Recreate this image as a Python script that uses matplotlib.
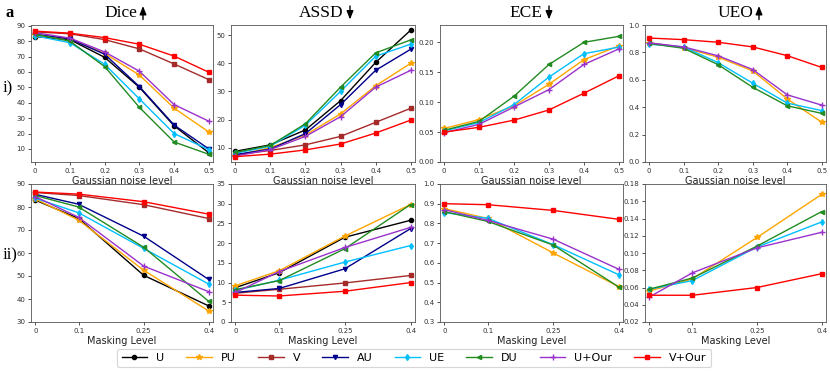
import matplotlib
matplotlib.use("Agg")
import matplotlib.pyplot as plt
from matplotlib.patches import FancyArrowPatch

# ---------------- data ----------------
methods = ["U", "PU", "V", "AU", "UE", "DU", "U+Our", "V+Our"]
colors = {"U": "black", "PU": "#FFA500", "V": "#A52A2A", "AU": "#00008B",
          "UE": "#00BFFF", "DU": "#228B22", "U+Our": "#9932CC", "V+Our": "#FF0000"}
markers = {"U": "o", "PU": "*", "V": "s", "AU": "v", "UE": "d", "DU": "<",
           "U+Our": "+", "V+Our": "s"}

gauss_x = [0, 0.1, 0.2, 0.3, 0.4, 0.5]
gauss_ticks = [0, 0.1, 0.2, 0.3, 0.4, 0.5]
mask_x = [0, 0.1, 0.25, 0.4]
mask_ticks = [0, 0.1, 0.25, 0.4]

dice_gauss = {
    "U": [83.0, 81.0, 69.5, 50.0, 25.0, 7.5],
    "PU": [84.0, 81.5, 72.0, 58.0, 36.5, 21.0],
    "V": [86.0, 84.8, 81.0, 75.0, 65.2, 55.0],
    "AU": [84.5, 81.5, 71.5, 50.5, 25.5, 10.0],
    "UE": [83.5, 79.0, 65.0, 42.5, 20.0, 9.5],
    "DU": [84.5, 80.0, 63.5, 37.0, 14.5, 6.5],
    "U+Our": [85.5, 82.0, 73.0, 60.5, 38.8, 28.0],
    "V+Our": [86.5, 85.2, 82.3, 78.0, 70.3, 59.8],
}
assd_gauss = {
    "U": [8.7, 11.0, 16.3, 26.7, 40.3, 51.8],
    "PU": [7.2, 10.0, 14.5, 22.0, 32.0, 40.0],
    "V": [7.5, 9.0, 11.0, 14.0, 19.0, 24.0],
    "AU": [7.5, 9.5, 15.0, 25.3, 37.5, 45.0],
    "UE": [8.0, 10.5, 18.0, 30.0, 42.5, 46.8],
    "DU": [8.3, 10.8, 18.5, 31.5, 43.7, 48.3],
    "U+Our": [7.0, 9.3, 14.0, 21.0, 31.5, 37.5],
    "V+Our": [6.8, 7.7, 9.2, 11.3, 15.2, 19.8],
}
ece_gauss = {
    "PU": [0.056, 0.071, 0.094, 0.130, 0.171, 0.194],
    "UE": [0.052, 0.066, 0.096, 0.142, 0.181, 0.192],
    "DU": [0.053, 0.068, 0.110, 0.163, 0.200, 0.210],
    "U+Our": [0.049, 0.063, 0.092, 0.121, 0.163, 0.189],
    "V+Our": [0.050, 0.058, 0.070, 0.087, 0.115, 0.144],
}
ueo_gauss = {
    "PU": [0.870, 0.835, 0.765, 0.665, 0.460, 0.290],
    "UE": [0.860, 0.840, 0.725, 0.575, 0.430, 0.375],
    "DU": [0.865, 0.830, 0.710, 0.545, 0.410, 0.355],
    "U+Our": [0.870, 0.840, 0.775, 0.675, 0.490, 0.415],
    "V+Our": [0.905, 0.893, 0.874, 0.840, 0.776, 0.690],
}
dice_mask = {
    "U": [83.0, 75.0, 50.3, 37.0],
    "PU": [83.5, 74.3, 52.5, 34.8],
    "V": [86.3, 85.0, 81.0, 75.0],
    "AU": [85.5, 81.2, 67.3, 48.5],
    "UE": [83.8, 77.5, 62.0, 46.5],
    "DU": [85.0, 80.0, 62.5, 39.0],
    "U+Our": [84.5, 75.5, 54.3, 43.2],
    "V+Our": [86.5, 85.6, 82.3, 76.9],
}
assd_mask = {
    "U": [8.7, 12.5, 21.5, 25.8],
    "PU": [9.2, 13.0, 21.8, 29.8],
    "V": [7.3, 8.3, 9.9, 11.8],
    "AU": [7.5, 8.5, 13.5, 23.7],
    "UE": [8.0, 10.6, 15.2, 19.4],
    "DU": [8.2, 10.5, 18.6, 29.8],
    "U+Our": [7.5, 12.8, 18.9, 24.0],
    "V+Our": [6.8, 6.6, 7.8, 10.0],
}
ece_mask = {
    "PU": [0.875, 0.825, 0.650, 0.480],
    "UE": [0.855, 0.826, 0.692, 0.540],
    "DU": [0.860, 0.810, 0.690, 0.478],
    "U+Our": [0.870, 0.815, 0.720, 0.568],
    "V+Our": [0.900, 0.895, 0.866, 0.821],
}
ueo_mask = {
    "PU": [0.056, 0.070, 0.118, 0.168],
    "UE": [0.058, 0.068, 0.107, 0.136],
    "DU": [0.058, 0.071, 0.108, 0.148],
    "U+Our": [0.049, 0.077, 0.106, 0.124],
    "V+Our": [0.051, 0.051, 0.060, 0.076],
}

titles = ["Dice", "ASSD", "ECE", "UEO"]
title_up = [True, False, False, True]
row_labels = ["i)", "ii)"]
xlabels = ["Gaussian noise level", "Masking Level"]

# ---------------- layout ----------------
W, H = 830, 380
fig = plt.figure(figsize=(W / 100, H / 100), dpi=100)

lefts = [31, 231, 440, 645]
widths = [182, 184, 183, 181]
rows = [(25, 162), (184, 322)]  # top, bottom in px

panels = [
    [(dice_gauss, (1.5, 90.5), [10, 20, 30, 40, 50, 60, 70, 80, 90], "{:.0f}"),
     (assd_gauss, (4.9, 53.6), [10, 20, 30, 40, 50], "{:.0f}"),
     (ece_gauss, (0.0, 0.229), [0.0, 0.05, 0.10, 0.15, 0.20], "{:.2f}"),
     (ueo_gauss, (0.0, 1.0), [0.0, 0.2, 0.4, 0.6, 0.8, 1.0], "{:.1f}")],
    [(dice_mask, (30, 90), [30, 40, 50, 60, 70, 80, 90], "{:.0f}"),
     (assd_mask, (0, 35), [0, 5, 10, 15, 20, 25, 30, 35], "{:.0f}"),
     (ece_mask, (0.3, 1.0), [0.3, 0.4, 0.5, 0.6, 0.7, 0.8, 0.9, 1.0], "{:.1f}"),
     (ueo_mask, (0.02, 0.18), [0.02, 0.04, 0.06, 0.08, 0.10, 0.12, 0.14, 0.16, 0.18], "{:.2f}")],
]

handles = {}
for r, (top, bot) in enumerate(rows):
    xs = gauss_x if r == 0 else mask_x
    xt = gauss_ticks if r == 0 else mask_ticks
    pad = 0.012 if r == 0 else 0.01
    for c in range(4):
        data, ylim, yt, fmt = panels[r][c]
        ax = fig.add_axes([lefts[c] / W, 1 - bot / H, widths[c] / W, (bot - top) / H])
        for m in methods:
            if m not in data:
                continue
            ms = 4.0 if markers[m] in ("+", "*") else 3.0
            ln, = ax.plot(xs, data[m], color=colors[m], marker=markers[m],
                          markersize=ms, linewidth=1.0, label=m)
            handles[m] = ln
        ax.set_xticks(xt)
        ax.set_xticklabels(["{:g}".format(v) for v in xt])
        ax.set_xlim(xs[0] - pad, xs[-1] + pad)
        ax.set_ylim(*ylim)
        ax.set_yticks(yt)
        ax.set_yticklabels([fmt.format(v) for v in yt])
        ax.tick_params(labelsize=5, length=2.5, width=0.6, pad=1.5, colors="#333333")
        for sp in ax.spines.values():
            sp.set_linewidth(0.6)
            sp.set_color("#555555")
        ax.set_xlabel(xlabels[r], fontsize=7, labelpad=1.5, color="#222222")

# titles with arrows
title_pos = [(137, 143), (343, 350), (542, 549), (753, 759)]
for c in range(4):
    tx, axx = title_pos[c]
    fig.text(tx / W, 1 - 17 / H, titles[c], ha="right", va="baseline",
             fontsize=12.5, family="Liberation Serif")
    y1, y2 = 1 - 19.5 / H, 1 - 6 / H
    if title_up[c]:
        start, end = (axx / W, y1), (axx / W, y2)
    else:
        start, end = (axx / W, y2), (axx / W, y1)
    fig.add_artist(FancyArrowPatch(
        start, end, transform=fig.transFigure,
        arrowstyle="-|>,head_length=5,head_width=2",
        color="black", linewidth=1.0, mutation_scale=1,
        shrinkA=0, shrinkB=0))

fig.text(5 / W, 1 - 17 / H, "a", fontsize=12, fontweight="bold", family="Liberation Serif",
         va="baseline")
fig.text(3 / W, 1 - 88 / H, row_labels[0], fontsize=12, family="Liberation Serif", va="center")
fig.text(3 / W, 1 - 255 / H, row_labels[1], fontsize=12, family="Liberation Serif", va="center")

leg = fig.legend([handles[m] for m in methods], methods, loc="center",
                 bbox_to_anchor=(414 / W, 1 - 358 / H), ncol=8, fontsize=8,
                 frameon=True, handlelength=2.3, columnspacing=2.0, handletextpad=0.8,
                 borderpad=0.4, fancybox=True)
leg.get_frame().set_linewidth(0.8)
leg.get_frame().set_edgecolor("#cccccc")

fig.savefig("out.png", dpi=100)
